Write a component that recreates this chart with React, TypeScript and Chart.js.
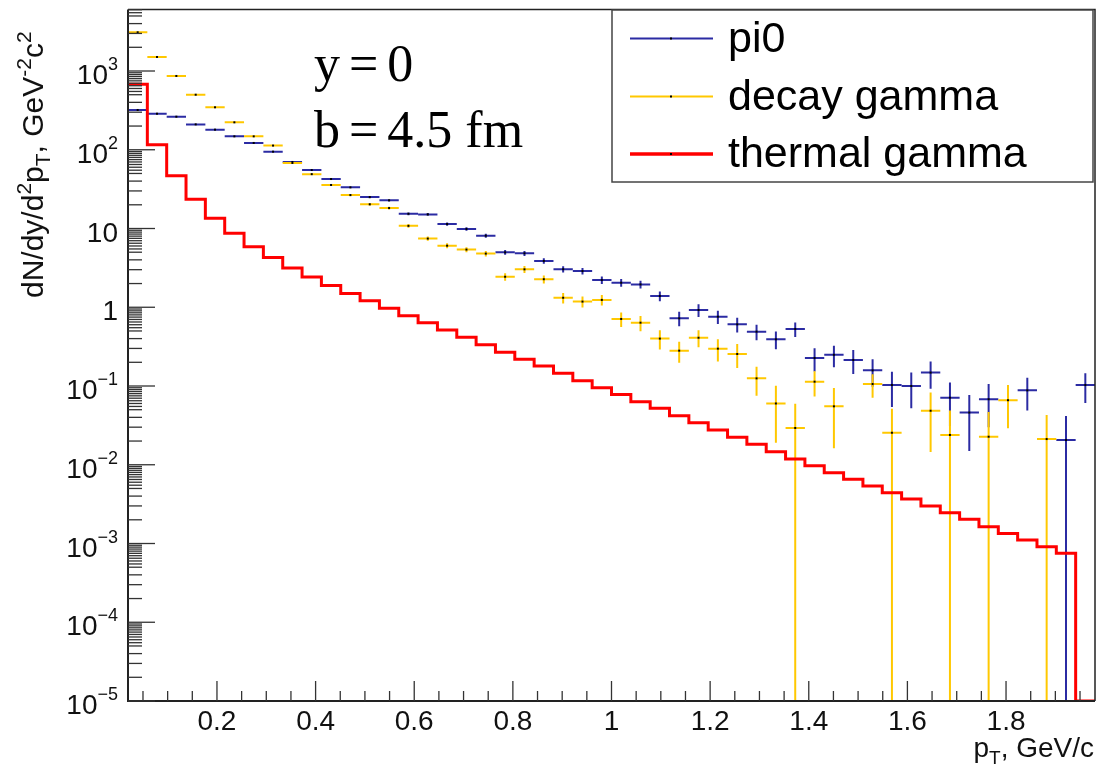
import React, { useEffect, useRef } from "react";
import { Chart, registerables } from "chart.js";

Chart.register(...registerables);

// Histogram binning: bins of width 2/51 GeV/c, centred at k * width
const BIN_WIDTH = 2 / 51;
const binNumbers = [
  1, 2, 3, 4, 5, 6, 7, 8, 9, 10, 11, 12, 13, 14, 15, 16, 17, 18, 19, 20, 21, 22, 23, 24, 25,
  26, 27, 28, 29, 30, 31, 32, 33, 34, 35, 36, 37, 38, 39, 40, 41, 42, 43, 44, 45, 46, 47, 48, 49, 50,
];

const pi0Values = [
  320, 287, 263, 210, 180, 148, 122, 94.6, 70, 55.3, 42.5, 33.3, 25.1, 22.8, 15.4, 15.1, 11.4, 9.86, 8.1, 4.98,
  4.84, 3.87, 3.04, 2.88, 2.22, 2.05, 1.95, 1.39, 0.724, 0.923, 0.759, 0.607, 0.49, 0.392, 0.53, 0.227, 0.249,
  0.214, 0.158, 0.103, 0.1, 0.148, 0.071, 0.046, 0.068, null, 0.088, null, 0.0206, 0.103,
];
const pi0Errors = [
  2.8, 2.7, 2.6, 2.3, 2.1, 1.9, 1.7, 1.5, 1.3, 1.2, 1.0, 0.9, 0.8, 0.75, 0.62, 0.62, 0.53, 0.5, 0.45, 0.35,
  0.35, 0.31, 0.28, 0.27, 0.24, 0.23, 0.22, 0.2, 0.15, 0.17, 0.145, 0.13, 0.11, 0.1, 0.11, 0.074, 0.076,
  0.072, 0.06, 0.049, 0.048, 0.056, 0.04, 0.031, 0.038, null, 0.039, null, 0.021, 0.042,
];

const decayValues = [
  3100, 1507, 865, 500, 346, 223, 148, 113, 68, 49, 35.7, 26.6, 20.3, 18.2, 10.8, 7.45, 6.05, 5.4, 4.8, 2.44,
  3.03, 2.27, 1.32, 1.18, 1.24, 0.71, 0.637, 0.4, 0.281, 0.41, 0.298, 0.255, 0.125, 0.06, 0.0293, 0.1135,
  0.0552, null, 0.106, 0.0255, null, 0.0485, 0.0239, null, 0.0227, 0.066, null, 0.0212, null, null,
];
const decayErrors = [
  9.6, 6.7, 5.1, 3.9, 3.2, 2.6, 2.1, 1.8, 1.4, 1.2, 1.0, 0.9, 0.78, 0.74, 0.57, 0.47, 0.43, 0.4, 0.38, 0.27,
  0.3, 0.26, 0.2, 0.19, 0.19, 0.15, 0.14, 0.11, 0.084, 0.1, 0.094, 0.086, 0.05, 0.041, 0.03, 0.04,
  0.039, null, 0.035, 0.026, null, 0.034, 0.025, null, 0.024, 0.037, null, 0.0215, null, null,
];

const thermalValues = [
  678, 116, 46.9, 23.5, 13.5, 8.69, 5.88, 4.28, 3.15, 2.43, 1.89, 1.5, 1.21, 0.97, 0.78, 0.637, 0.514, 0.415,
  0.335, 0.268, 0.218, 0.179, 0.145, 0.117, 0.095, 0.078, 0.063, 0.052, 0.042, 0.0342, 0.0276, 0.0223,
  0.0182, 0.01466, 0.01183, 0.00973, 0.00793, 0.00653, 0.00537, 0.00442, 0.00367, 0.00299, 0.00246,
  0.00203, 0.00163, 0.00134, 0.00111, 0.000912, 0.000751, 0,
];

const xMajorTicks = [0.2, 0.4, 0.6, 0.8, 1.0, 1.2, 1.4, 1.6, 1.8];
const xTickLabels = ["0.2", "0.4", "0.6", "0.8", "1", "1.2", "1.4", "1.6", "1.8"];
const yDecadeExponents = [-5, -4, -3, -2, -1, 0, 1, 2, 3];
const legendLabels = ["pi0", "decay gamma", "thermal gamma"];
const annotationLines = ["y=0", "b=4.5 fm"];

const Y_MIN = 1e-5;
const Y_MAX = 6040;

const COLOR_PI0 = "#2b2ba3";
const COLOR_DECAY = "#ffc800";
const COLOR_THERMAL = "#ff0000";
const SANS = "'Liberation Sans', Arial, sans-serif";
const SERIF = "'Liberation Serif', 'Times New Roman', serif";

type Piece = { t: string; size: number; dy: number };

function drawRich(ctx: CanvasRenderingContext2D, pieces: Piece[], x: number, y: number, family: string) {
  let cx = x;
  for (const p of pieces) {
    ctx.font = `${p.size}px ${family}`;
    ctx.fillText(p.t, cx, y + p.dy);
    cx += ctx.measureText(p.t).width;
  }
  return cx - x;
}
function richWidth(ctx: CanvasRenderingContext2D, pieces: Piece[], family: string) {
  let w = 0;
  for (const p of pieces) {
    ctx.font = `${p.size}px ${family}`;
    w += ctx.measureText(p.t).width;
  }
  return w;
}

const crossPlugin = {
  id: "errorCrosses",
  beforeDatasetsDraw(chart: any) {
    const { ctx, chartArea } = chart;
    const xs = chart.scales.x;
    const ys = chart.scales.y;
    ctx.save();
    ctx.beginPath();
    ctx.rect(chartArea.left, chartArea.top, chartArea.right - chartArea.left, chartArea.bottom - chartArea.top);
    ctx.clip();
    chart.data.datasets.forEach((ds: any) => {
      if (!ds.errors) return;
      ctx.strokeStyle = ds.crossColor;
      ctx.lineWidth = 2;
      ds.data.forEach((pt: any, i: number) => {
        if (pt.y == null) return;
        const err = ds.errors[i] || 0;
        const px = xs.getPixelForValue(pt.x);
        const xl = xs.getPixelForValue(pt.x - BIN_WIDTH / 2);
        const xr = xs.getPixelForValue(pt.x + BIN_WIDTH / 2);
        const py = ys.getPixelForValue(pt.y);
        const yt = ys.getPixelForValue(pt.y + err);
        const lo = pt.y - err;
        const yb = lo > Y_MIN ? ys.getPixelForValue(lo) : chartArea.bottom + 2;
        ctx.beginPath();
        ctx.moveTo(xl, py);
        ctx.lineTo(xr, py);
        ctx.moveTo(px, yt);
        ctx.lineTo(px, yb);
        ctx.stroke();
        ctx.fillStyle = "#000";
        ctx.fillRect(px - 1, py - 1, 2, 2);
      });
    });
    ctx.restore();
  },
};

const framePlugin = {
  id: "rootFrame",
  afterDraw(chart: any) {
    const { ctx, chartArea } = chart;
    const xs = chart.scales.x;
    const ys = chart.scales.y;
    const { left, right, top, bottom } = chartArea;
    ctx.save();

    // frame
    ctx.strokeStyle = "#222";
    ctx.lineWidth = 1.5;
    ctx.beginPath();
    ctx.moveTo(left, top);
    ctx.lineTo(right, top);
    ctx.lineTo(right, bottom);
    ctx.stroke();
    ctx.lineWidth = 2;
    ctx.beginPath();
    ctx.moveTo(left, top);
    ctx.lineTo(left, bottom);
    ctx.lineTo(right, bottom);
    ctx.stroke();

    // y ticks
    ctx.lineWidth = 1.3;
    ctx.strokeStyle = "#333";
    const minorMult = [2, 3, 4, 5, 5.5, 6, 6.5, 7, 7.5, 8, 8.5, 9, 9.5];
    for (let n = -5; n <= 3; n++) {
      const dec = Math.pow(10, n);
      const yp = ys.getPixelForValue(dec);
      ctx.beginPath();
      ctx.moveTo(left, yp);
      ctx.lineTo(left + 27, yp);
      ctx.stroke();
      for (const m of minorMult) {
        const v = m * dec;
        if (v > Y_MAX) continue;
        const ym = ys.getPixelForValue(v);
        ctx.beginPath();
        ctx.moveTo(left, ym);
        ctx.lineTo(left + 14, ym);
        ctx.stroke();
      }
    }
    // x ticks
    for (let i = 1; i <= 39; i++) {
      const v = i * 0.05;
      const xp = xs.getPixelForValue(v);
      if (xp < left || xp > right) continue;
      const major = i % 4 === 0;
      ctx.beginPath();
      ctx.moveTo(xp, bottom);
      ctx.lineTo(xp, bottom - (major ? 20 : 10));
      ctx.stroke();
    }

    ctx.fillStyle = "#111";
    // x tick labels
    ctx.textAlign = "center";
    ctx.textBaseline = "alphabetic";
    ctx.font = `28px ${SANS}`;
    xMajorTicks.forEach((v, i) => {
      ctx.fillText(xTickLabels[i], xs.getPixelForValue(v), bottom + 29);
    });
    // y tick labels
    ctx.textAlign = "left";
    yDecadeExponents.forEach((n) => {
      const yp = ys.getPixelForValue(Math.pow(10, n));
      let pieces: Piece[];
      if (n === 0) pieces = [{ t: "1", size: 28, dy: 0 }];
      else if (n === 1) pieces = [{ t: "10", size: 28, dy: 0 }];
      else {
        const e = n < 0 ? "\u2212" + String(-n) : String(n);
        pieces = [
          { t: "10", size: 28, dy: 0 },
          { t: e, size: 18, dy: -14 },
        ];
      }
      const w = richWidth(ctx, pieces, SANS);
      drawRich(ctx, pieces, 118 - w, yp + 13, SANS);
    });

    // x title
    const xt: Piece[] = [
      { t: "p", size: 28, dy: 0 },
      { t: "T", size: 19, dy: 7 },
      { t: ", GeV/c", size: 28, dy: 0 },
    ];
    const xw = richWidth(ctx, xt, SANS);
    drawRich(ctx, xt, 1094 - xw, 757, SANS);

    // y title (rotated)
    ctx.save();
    ctx.translate(43, 298);
    ctx.rotate(-Math.PI / 2);
    const yt: Piece[] = [
      { t: "dN/dy/d", size: 30, dy: 0 },
      { t: "2", size: 21, dy: -12 },
      { t: "p", size: 30, dy: 0 },
      { t: "T", size: 21, dy: 7 },
      { t: ", GeV", size: 30, dy: 0 },
      { t: "-2", size: 21, dy: -12 },
      { t: "c", size: 30, dy: 0 },
      { t: "2", size: 21, dy: -12 },
    ];
    drawRich(ctx, yt, 0, 0, SANS);
    ctx.restore();

    // annotation text
    ctx.fillStyle = "#000";
    ctx.font = `52px ${SERIF}`;
    const drawSpaced = (parts: string[], x: number, y: number, gap: number) => {
      let cx = x;
      parts.forEach((p, i) => {
        ctx.fillText(p, cx, y);
        cx += ctx.measureText(p).width + (i < parts.length - 1 ? gap : 0);
      });
    };
    drawSpaced(annotationLines[0].split(/(=)/), 314, 81, 9);
    drawSpaced(annotationLines[1].split(/(=)/), 314, 147, 9);

    // legend
    const lx = 612, ly = 10, lw = 481, lh = 172;
    ctx.fillStyle = "#fff";
    ctx.fillRect(lx, ly, lw, lh);
    ctx.strokeStyle = "#444";
    ctx.lineWidth = 1.5;
    ctx.strokeRect(lx, ly, lw, lh);
    const rows = [38.5, 96.5, 154];
    const cols = [COLOR_PI0, COLOR_DECAY, COLOR_THERMAL];
    const widths = [2, 2, 3.5];
    legendLabels.forEach((label, i) => {
      ctx.strokeStyle = cols[i];
      ctx.lineWidth = widths[i];
      ctx.beginPath();
      ctx.moveTo(630, rows[i]);
      ctx.lineTo(713, rows[i]);
      ctx.stroke();
      ctx.fillStyle = "#000";
      ctx.fillRect(670, rows[i] - 1, 2, 2);
      ctx.font = `43px ${SANS}`;
      ctx.fillText(label, 728, rows[i] + 13);
    });

    ctx.restore();
  },
};

export default function App() {
  const canvasRef = useRef<HTMLCanvasElement | null>(null);

  useEffect(() => {
    const canvas = canvasRef.current;
    if (!canvas) return;

    const centers = binNumbers.map((k) => k * BIN_WIDTH);
    // empty bins are drawn on the frame's lower edge, as ROOT does on a log axis
    const thermalSteps = binNumbers.map((k, i) => ({
      x: (k - 0.5) * BIN_WIDTH,
      y: Math.max(thermalValues[i], Y_MIN),
    }));
    thermalSteps.push({
      x: (binNumbers[binNumbers.length - 1] + 0.5) * BIN_WIDTH,
      y: Math.max(thermalValues[thermalValues.length - 1], Y_MIN),
    });

    const chart = new Chart(canvas, {
      type: "line",
      data: {
        datasets: [
          {
            label: legendLabels[0],
            data: centers.map((x, i) => ({ x, y: pi0Values[i] })),
            showLine: false,
            pointRadius: 0,
            pointHoverRadius: 0,
            borderColor: COLOR_PI0,
            errors: pi0Errors,
            crossColor: COLOR_PI0,
          } as any,
          {
            label: legendLabels[1],
            data: centers.map((x, i) => ({ x, y: decayValues[i] })),
            showLine: false,
            pointRadius: 0,
            pointHoverRadius: 0,
            borderColor: COLOR_DECAY,
            errors: decayErrors,
            crossColor: COLOR_DECAY,
          } as any,
          {
            label: legendLabels[2],
            data: thermalSteps,
            stepped: true,
            borderColor: COLOR_THERMAL,
            borderWidth: 3,
            pointRadius: 0,
            pointHoverRadius: 0,
            fill: false,
          } as any,
        ],
      },
      options: {
        responsive: false,
        animation: false,
        devicePixelRatio: 1,
        layout: { padding: { left: 128, top: 9.5, right: 3, bottom: 66 } },
        scales: {
          x: {
            type: "linear",
            min: 0.5 * BIN_WIDTH,
            max: 50.5 * BIN_WIDTH,
            display: false,
          },
          y: {
            type: "logarithmic",
            min: Y_MIN,
            max: Y_MAX,
            display: false,
          },
        },
        plugins: {
          legend: { display: false },
          tooltip: { enabled: false },
        },
        events: [],
      },
      plugins: [crossPlugin, framePlugin],
    } as any);

    return () => chart.destroy();
  }, []);

  return (
    <div style={{ position: "fixed", left: 0, top: 0, width: 1098, height: 767, background: "#fff" }}>
      <canvas ref={canvasRef} width={1098} height={767} style={{ display: "block" }} />
    </div>
  );
}
